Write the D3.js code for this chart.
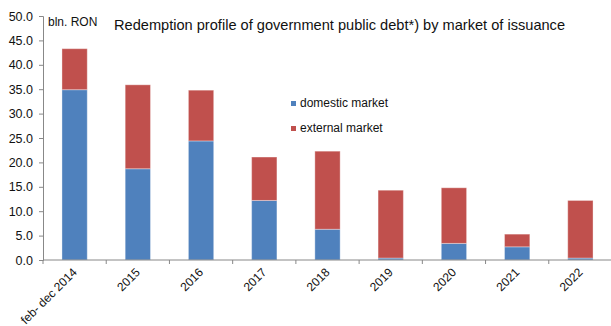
<!DOCTYPE html>
<html>
<head>
<meta charset="utf-8">
<script src="https://cdn.jsdelivr.net/npm/d3@7"></script>
<style>
  html, body { margin: 0; padding: 0; background: #fff; }
  svg { display: block; font-family: "Liberation Sans", Arial, sans-serif; }
</style>
</head>
<body>
<svg id="chart" width="611" height="326"></svg>
<script>
// Redemption profile by year, bln. RON
const categories = ["feb- dec 2014", "2015", "2016", "2017", "2018", "2019", "2020", "2021", "2022"];
const domestic = [34.9, 18.7, 24.4, 12.2, 6.3, 0.4, 3.4, 2.7, 0.4];
const external = [8.4, 17.2, 10.4, 8.9, 16.0, 13.9, 11.4, 2.6, 11.8];
const yTicks = [0, 5, 10, 15, 20, 25, 30, 35, 40, 45, 50];
const seriesNames = ["domestic market", "external market"];
const colors = ["#4F81BD", "#C0504D"];

const svg = d3.select("#chart");
const plotLeft = 43, plotRight = 612, plotTop = 16, plotBottom = 260;

const x = d3.scaleBand().domain(categories).range([plotLeft, plotRight]).paddingInner(0.6).paddingOuter(0.3);
const xb = d3.scaleBand().domain(categories).range([plotLeft, plotRight]);
const y = d3.scaleLinear().domain([0, 50]).range([plotBottom, plotTop]);

const rows = categories.map((c, i) => ({ cat: c, domestic: domestic[i], external: external[i] }));
const stack = d3.stack().keys(["domestic", "external"])(rows);

// Stacked bars
svg.append("g").selectAll("g").data(stack).join("g")
  .attr("fill", (d, i) => colors[i])
  .selectAll("rect").data(d => d).join("rect")
  .attr("x", d => x(d.data.cat))
  .attr("width", x.bandwidth())
  .attr("y", d => y(d[1]))
  .attr("height", d => y(d[0]) - y(d[1]))
  .attr("stroke", "rgba(255,255,255,0.35)")
  .attr("stroke-width", 1);

// Y axis
const yAxis = svg.append("g").attr("transform", `translate(${plotLeft},0)`)
  .call(d3.axisLeft(y).tickValues(yTicks).tickFormat(d3.format(".1f")).tickSizeOuter(0).tickSize(4).tickPadding(6));
yAxis.select(".domain").attr("stroke", "#888");
yAxis.selectAll(".tick line").attr("stroke", "#888");
yAxis.selectAll("text").attr("font-size", 12.5).attr("fill", "#111")
  .attr("font-family", "Liberation Sans, Arial, sans-serif");

// X axis with ticks on category boundaries
const xAxis = svg.append("g").attr("transform", `translate(0,${plotBottom})`);
xAxis.append("line").attr("x1", plotLeft).attr("x2", plotRight).attr("stroke", "#888");
xAxis.selectAll("line.tk").data(categories).join("line").attr("class", "tk")
  .attr("x1", d => xb(d)).attr("x2", d => xb(d)).attr("y1", 0).attr("y2", 4).attr("stroke", "#888");
xAxis.selectAll("text").data(categories).join("text")
  .attr("transform", d => `translate(${xb(d) + xb.bandwidth() / 2 + 3},13) rotate(-45)`)
  .attr("text-anchor", "end")
  .attr("font-size", 12)
  .attr("fill", "#111")
  .text(d => d);

// Unit label and title
svg.append("text").attr("x", 48).attr("y", 26).attr("font-size", 12).attr("fill", "#111").text("bln. RON");
svg.append("text").attr("x", 114).attr("y", 30).attr("font-size", 14.6).attr("fill", "#111")
  .text("Redemption profile of government public debt*) by market of issuance");

// Legend
const legend = svg.append("g").selectAll("g").data(seriesNames).join("g")
  .attr("transform", (d, i) => `translate(291,${101 + i * 25})`);
legend.append("rect").attr("width", 5).attr("height", 5).attr("fill", (d, i) => colors[i]);
legend.append("text").attr("x", 9).attr("y", 6).attr("font-size", 12).attr("fill", "#111").text(d => d);
</script>
</body>
</html>
